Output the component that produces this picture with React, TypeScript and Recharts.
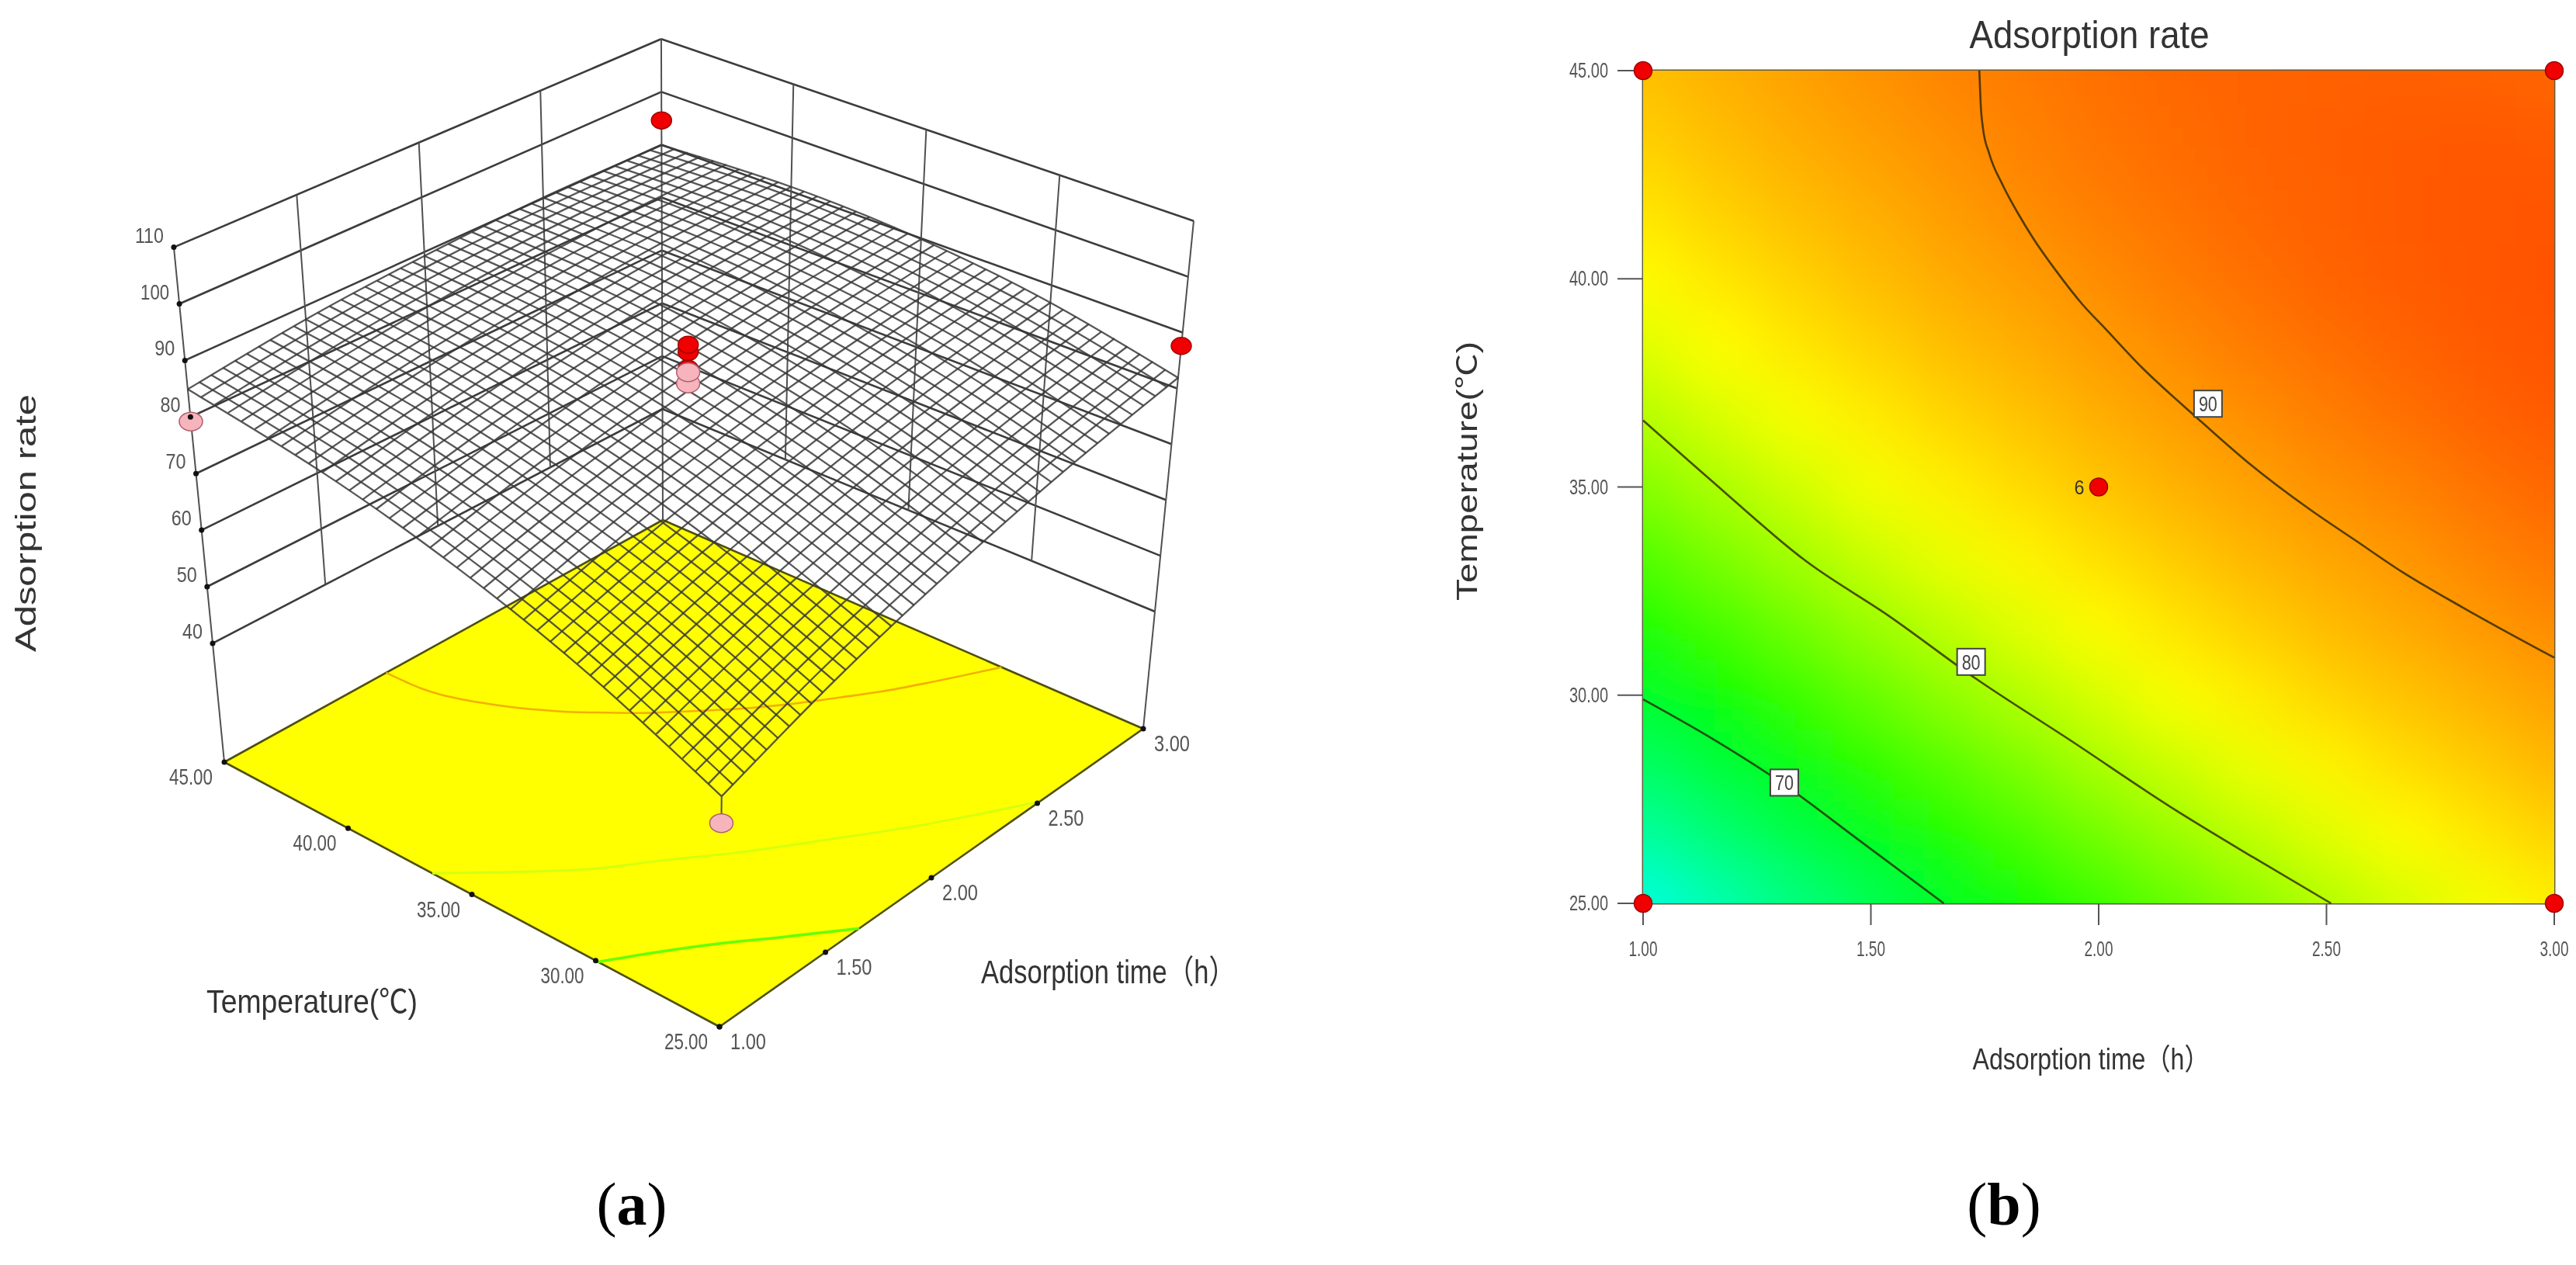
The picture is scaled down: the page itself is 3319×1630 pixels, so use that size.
/* ---------- Adsorption rate: response surface (a) and contour plot (b) ---------- */
import { ScatterChart, Scatter, XAxis, YAxis, ReferenceArea } from 'recharts';

const timeTicks = [1, 1.5, 2, 2.5, 3];
const tempTicks = [25, 30, 35, 40, 45];
const rateTicks = [40, 50, 60, 70, 80, 90, 100, 110];
const FLOOR_RATE = 19;
const TOP_RATE = 110;

// contour lines as [time, temperature]
const contour70 = [[1, 29.9], [1.145, 29.0], [1.31, 27.85], [1.47, 26.55], [1.66, 25]];
const contour80 = [[1, 36.6], [1.145, 35.2], [1.36, 33.2], [1.54, 31.9], [1.73, 30.4], [1.94, 28.9], [2.16, 27.3], [2.34, 26.1], [2.51, 25]];
const contour90 = [
  [1.738, 45], [1.741, 44.2], [1.746, 43.62], [1.76, 43.0], [1.789, 42.26], [1.823, 41.57], [1.857, 40.96], [1.908, 40.17],
  [1.964, 39.39], [2.014, 38.81], [2.094, 37.88], [2.19, 36.91], [2.225, 36.57], [2.33, 35.57], [2.465, 34.45], [2.566, 33.7],
  [2.666, 32.96], [2.8, 32.1], [3, 30.9],
];
const contourLabels = [
  { t: 1.31, T: 27.9, text: '70' },
  { t: 1.72, T: 30.8, text: '80' },
  { t: 2.24, T: 37.0, text: '90' },
];

// design points
const cornerPoints = [{ t: 1, T: 25 }, { t: 3, T: 25 }, { t: 1, T: 45 }, { t: 3, T: 45 }];
const centerPoint = [{ t: 2, T: 35 }];
const pointsAbove = [
  { t: 3, T: 45, rate: 94.6 },
  { t: 3, T: 25, rate: 87.6 },
  { t: 2, T: 35, rate: 88.5 },
  { t: 2, T: 35, rate: 91.5 },
  { t: 2, T: 35, rate: 92.8 },
];
const pointsBelow = [
  { t: 1, T: 45, rate: 79.2 },
  { t: 1, T: 25, rate: 53.2 },
  { t: 2, T: 35, rate: 85.9 },
  { t: 2, T: 35, rate: 87.9 },
];

// rate over panel (b), rows from 25 to 45 degrees, columns from 1 to 3 h
const heatRates = [
  [60.2, 62.8, 65.3, 67.8, 70.1, 72.2, 74.3, 76.3, 78.1, 79.9, 81.5, 83.0, 84.4],
  [63.7, 66.2, 68.6, 70.8, 73.0, 75.1, 77.0, 78.8, 80.5, 82.1, 83.6, 85.0, 86.3],
  [67.0, 69.3, 71.6, 73.7, 75.7, 77.6, 79.5, 81.1, 82.7, 84.2, 85.6, 86.8, 88.0],
  [70.0, 72.2, 74.3, 76.4, 78.3, 80.0, 81.7, 83.3, 84.7, 86.1, 87.3, 88.4, 89.4],
  [72.8, 74.9, 76.9, 78.8, 80.5, 82.2, 83.7, 85.2, 86.5, 87.7, 88.8, 89.8, 90.6],
  [75.4, 77.4, 79.2, 81.0, 82.6, 84.1, 85.5, 86.8, 88.0, 89.1, 90.0, 90.9, 91.6],
  [77.8, 79.6, 81.3, 83.0, 84.5, 85.8, 87.1, 88.3, 89.3, 90.3, 91.0, 91.8, 92.4],
  [80.0, 81.7, 83.2, 84.7, 86.1, 87.3, 88.5, 89.5, 90.4, 91.2, 91.9, 92.5, 93.0],
  [81.9, 83.5, 84.9, 86.2, 87.5, 88.6, 89.6, 90.5, 91.3, 91.9, 92.5, 93.0, 93.3],
  [83.6, 85.0, 86.3, 87.6, 88.7, 89.6, 90.5, 91.3, 91.9, 92.5, 92.9, 93.2, 93.4],
  [85.1, 86.4, 87.6, 88.6, 89.6, 90.5, 91.2, 91.8, 92.3, 92.7, 93.0, 93.2, 93.3],
  [86.4, 87.5, 88.6, 89.5, 90.3, 91.0, 91.7, 92.1, 92.5, 92.8, 93.0, 93.1, 93.0],
  [87.4, 88.4, 89.3, 90.2, 90.9, 91.4, 91.9, 92.3, 92.5, 92.7, 92.7, 92.6, 92.4],
];

// surface mesh of panel (a): one row per mesh line of constant temperature (25 to 45, every 0.5),
// read at the five time ticks
const meshByTemp = [
  [57.7, 65.3, 71.8, 77.4, 81.9], [58.8, 66.2, 72.6, 78.1, 82.5], [59.8, 67.1, 73.4, 78.8, 83.1], [60.9, 68.0, 74.2, 79.4, 83.6],
  [61.9, 68.9, 75.0, 80.1, 84.1], [62.9, 69.8, 75.8, 80.7, 84.7], [63.8, 70.7, 76.5, 81.3, 85.1], [64.8, 71.5, 77.2, 81.9, 85.6],
  [65.7, 72.3, 77.9, 82.5, 86.1], [66.6, 73.1, 78.6, 83.0, 86.5], [67.5, 73.9, 79.2, 83.6, 86.9], [68.4, 74.6, 79.8, 84.1, 87.3],
  [69.2, 75.3, 80.4, 84.6, 87.7], [70.1, 76.0, 81.0, 85.0, 88.0], [70.9, 76.7, 81.6, 85.5, 88.3], [71.7, 77.4, 82.2, 85.9, 88.7],
  [72.4, 78.1, 82.7, 86.3, 88.9], [73.2, 78.7, 83.2, 86.7, 89.2], [73.9, 79.3, 83.7, 87.1, 89.5], [74.6, 79.9, 84.2, 87.4, 89.7],
  [75.3, 80.5, 84.6, 87.8, 89.9], [76.0, 81.0, 85.0, 88.1, 90.1], [76.6, 81.5, 85.4, 88.4, 90.3], [77.3, 82.0, 85.8, 88.6, 90.4],
  [77.9, 82.5, 86.2, 88.9, 90.5], [78.5, 83.0, 86.6, 89.1, 90.7], [79.0, 83.5, 86.9, 89.3, 90.7], [79.6, 83.9, 87.2, 89.5, 90.8],
  [80.1, 84.3, 87.5, 89.7, 90.9], [80.6, 84.7, 87.8, 89.8, 90.9], [81.1, 85.1, 88.0, 90.0, 90.9], [81.6, 85.4, 88.2, 90.1, 90.9],
  [82.0, 85.7, 88.4, 90.2, 90.9], [82.5, 86.0, 88.6, 90.2, 90.8], [82.9, 86.3, 88.8, 90.3, 90.7], [83.3, 86.6, 89.0, 90.3, 90.7],
  [83.6, 86.9, 89.1, 90.3, 90.5], [84.0, 87.1, 89.2, 90.3, 90.4], [84.3, 87.3, 89.3, 90.3, 90.3], [84.6, 87.5, 89.4, 90.2, 90.1],
  [84.9, 87.7, 89.4, 90.2, 89.9],
];

// one row per mesh line of constant time (1 to 3, every 0.05), read at the five temperature ticks
const meshByTime = [
  [57.7, 67.5, 75.3, 81.1, 84.9], [58.5, 68.2, 75.9, 81.5, 85.2], [59.3, 68.9, 76.4, 82.0, 85.5], [60.1, 69.5, 77.0, 82.4, 85.8],
  [60.8, 70.2, 77.5, 82.8, 86.1], [61.6, 70.8, 78.0, 83.2, 86.4], [62.4, 71.4, 78.5, 83.6, 86.7], [63.1, 72.1, 79.0, 84.0, 86.9],
  [63.8, 72.7, 79.5, 84.3, 87.2], [64.5, 73.3, 80.0, 84.7, 87.4], [65.3, 73.9, 80.5, 85.1, 87.7], [66.0, 74.4, 80.9, 85.4, 87.9],
  [66.6, 75.0, 81.4, 85.7, 88.1], [67.3, 75.6, 81.8, 86.0, 88.3], [68.0, 76.1, 82.2, 86.4, 88.5], [68.7, 76.7, 82.7, 86.7, 88.7],
  [69.3, 77.2, 83.1, 86.9, 88.8], [69.9, 77.7, 83.5, 87.2, 89.0], [70.6, 78.2, 83.9, 87.5, 89.1], [71.2, 78.7, 84.2, 87.8, 89.3],
  [71.8, 79.2, 84.6, 88.0, 89.4], [72.4, 79.7, 85.0, 88.2, 89.5], [73.0, 80.2, 85.3, 88.5, 89.6], [73.6, 80.6, 85.7, 88.7, 89.7],
  [74.1, 81.1, 86.0, 88.9, 89.8], [74.7, 81.5, 86.3, 89.1, 89.9], [75.3, 81.9, 86.6, 89.3, 90.0], [75.8, 82.4, 86.9, 89.5, 90.0],
  [76.3, 82.8, 87.2, 89.6, 90.1], [76.8, 83.2, 87.5, 89.8, 90.1], [77.4, 83.6, 87.8, 90.0, 90.2], [77.9, 83.9, 88.0, 90.1, 90.2],
  [78.3, 84.3, 88.3, 90.2, 90.2], [78.8, 84.7, 88.5, 90.3, 90.2], [79.3, 85.0, 88.7, 90.5, 90.2], [79.8, 85.4, 89.0, 90.6, 90.2],
  [80.2, 85.7, 89.2, 90.6, 90.1], [80.6, 86.0, 89.4, 90.7, 90.1], [81.1, 86.3, 89.6, 90.8, 90.0], [81.5, 86.6, 89.7, 90.9, 90.0],
  [81.9, 86.9, 89.9, 90.9, 89.9],
];

const SANS = '"Liberation Sans", "Noto Sans CJK SC", sans-serif';
const SOFT = 'blur(0.7px)'; // the reference is an upscaled bitmap

// 3D box of panel (a) on screen: floor corners and rate scale at each corner
const project = (t: number, T: number, rate: number) => {
  const u = (t - 1) / 2;
  const v = (T - 25) / 20;
  const mix = (front: number, right: number, left: number, back: number) =>
    (1 - v) * ((1 - u) * front + u * right) + v * ((1 - u) * left + u * back);
  const fx = mix(927, 1473, 289, 854);
  const fy = mix(1323, 939, 982, 670);
  const h = mix(7.67, 7.19, 7.29, 6.81) * (rate - FLOOR_RATE);
  return { x: fx + ((fx - 875) / (6958 - fy)) * h, y: fy - h };
};
const onFloor = (pts: number[][]) => pts.map(([t, T]) => project(t, T, FLOOR_RATE));

const noMark = () => <g />;

const polyline = (key: string, data: any[], line: any, joint: any = 'linear') => (
  <Scatter
    key={key}
    data={data}
    line={{ strokeLinejoin: 'round', ...line }}
    lineJointType={joint}
    shape={noMark}
    isAnimationActive={false}
  />
);

const Squeezed = ({ x, y, width, size, anchor = 'middle', fill = '#555', rotate, children }: any) => (
  <text
    x={x}
    y={y}
    textAnchor={anchor}
    fontSize={size}
    fontFamily={SANS}
    fill={fill}
    textLength={width}
    lengthAdjust="spacingAndGlyphs"
    transform={rotate ? `rotate(${rotate} ${x} ${y})` : undefined}
  >
    {children}
  </text>
);

const PanelTag = ({ x, letter }: any) => (
  <text x={x} y={1578} textAnchor="middle" fontSize={78} fontFamily='"Liberation Serif", serif' fill="#000">
    (<tspan fontWeight="bold">{letter}</tspan>)
  </text>
);

const wallStroke = { stroke: '#3c3c3c', strokeWidth: 2.6 };
const postStroke = { stroke: '#505050', strokeWidth: 2 };
const meshStroke = { stroke: '#383838', strokeWidth: 2.3, strokeOpacity: 0.85 };

const zTickLabel = (p: any) => (
  <Squeezed x={p.cx - 13} y={p.cy - 6} anchor="end" size={28} width={p.payload.rate > 99 ? 37 : 26}>
    {p.payload.rate}
  </Squeezed>
);
const tempTickLabel = (p: any) => (
  <g>
    <circle cx={p.cx} cy={p.cy} r={3.5} fill="#111" />
    <Squeezed x={p.cx - 43} y={p.cy + 29} size={29} width={56}>
      {p.payload.T.toFixed(2)}
    </Squeezed>
  </g>
);
const timeTickLabel = (p: any) => (
  <g>
    <circle cx={p.cx} cy={p.cy} r={3.5} fill="#111" />
    <Squeezed x={p.cx + 37} y={p.cy + 29} size={29} width={46}>
      {p.payload.t.toFixed(2)}
    </Squeezed>
  </g>
);
const redEllipse = (p: any) => <ellipse cx={p.cx} cy={p.cy} rx={13} ry={11} fill="#f00000" stroke="#a00000" strokeWidth={1.5} />;
const pinkEllipse = (p: any) => <ellipse cx={p.cx} cy={p.cy} rx={15} ry={12} fill="#f6b4bc" stroke="#b06070" strokeWidth={1.5} />;

const SurfacePanel = () => {
  const at = (t: number, T: number, rate: number) => ({ ...project(t, T, rate), t, T, rate });
  return (
    <ScatterChart width={1700} height={1630} margin={{ top: 0, right: 0, bottom: 0, left: 0 }} style={{ position: 'absolute', left: 0, top: 0, filter: SOFT }}>
      <XAxis type="number" dataKey="x" domain={[0, 1700]} hide />
      <YAxis type="number" dataKey="y" domain={[0, 1630]} reversed hide />

      {/* floor */}
      {polyline('floor', onFloor([[1, 25], [3, 25], [3, 45], [1, 45], [1, 25]]), { fill: '#ffff00', stroke: '#4f4f10', strokeWidth: 2.6 })}
      {polyline('floor-70', onFloor(contour70), { stroke: '#66ff00', strokeWidth: 3.5 }, 'monotoneX')}
      {polyline('floor-80', onFloor(contour80), { stroke: '#d4ff10', strokeWidth: 3 }, 'monotoneX')}
      {polyline('floor-90', onFloor(contour90), { stroke: '#f2b000', strokeWidth: 2.6 }, 'monotoneX')}

      {/* back walls */}
      {rateTicks.map((r) => polyline(`wall-l-${r}`, [at(1, 45, r), at(3, 45, r)], wallStroke))}
      {rateTicks.map((r) => polyline(`wall-r-${r}`, [at(3, 45, r), at(3, 25, r)], wallStroke))}
      {timeTicks.slice(1, -1).map((t) => polyline(`post-l-${t}`, [at(t, 45, TOP_RATE), at(t, 45, 40)], postStroke))}
      {tempTicks.slice(1, -1).map((T) => polyline(`post-r-${T}`, [at(3, T, TOP_RATE), at(3, T, 40)], postStroke))}
      {polyline('post-left', [at(1, 45, TOP_RATE), at(1, 45, FLOOR_RATE)], postStroke)}
      {polyline('post-back', [at(3, 45, TOP_RATE), at(3, 45, FLOOR_RATE)], postStroke)}
      {polyline('post-right', [at(3, 25, TOP_RATE), at(3, 25, FLOOR_RATE)], postStroke)}

      {/* surface mesh */}
      {meshByTemp.map((row, i) =>
        polyline(`mesh-T-${i}`, row.map((r, k) => at(timeTicks[k], 25 + i * 0.5, r)), meshStroke, 'natural'),
      )}
      {meshByTime.map((row, j) =>
        polyline(`mesh-t-${j}`, row.map((r, k) => at(1 + j * 0.05, tempTicks[k], r)), meshStroke, 'natural'),
      )}

      {/* drop line under the front corner */}
      {polyline('drop-front', [at(1, 25, 57.7), at(1, 25, 53.2)], postStroke)}

      <Scatter data={pointsAbove.map((p) => at(p.t, p.T, p.rate))} shape={redEllipse} isAnimationActive={false} />
      <Scatter data={pointsBelow.map((p) => at(p.t, p.T, p.rate))} shape={pinkEllipse} isAnimationActive={false} />

      <Scatter
        data={rateTicks.map((r) => at(1, 45, r))}
        shape={(p: any) => (
          <g>
            <circle cx={p.cx} cy={p.cy} r={3.5} fill="#111" />
            {zTickLabel(p)}
          </g>
        )}
        isAnimationActive={false}
      />
      <Scatter data={tempTicks.map((T) => at(1, T, FLOOR_RATE))} shape={tempTickLabel} isAnimationActive={false} />
      <Scatter data={timeTicks.map((t) => at(t, 25, FLOOR_RATE))} shape={timeTickLabel} isAnimationActive={false} />

      <Squeezed x={402} y={1305} size={42} width={272} fill="#333">Temperature(℃)</Squeezed>
      <Squeezed x={1428} y={1267} size={42} width={328} fill="#333">Adsorption time（h）</Squeezed>
      <Squeezed x={46} y={674} size={36} width={332} fill="#333" rotate={-90}>Adsorption rate</Squeezed>
      <PanelTag x={814} letter="a" />
    </ScatterChart>
  );
};

/* ---------- contour panel ---------- */
const colorStops = [
  [60, 0, 255, 225],
  [72, 0, 255, 0],
  [83.5, 255, 255, 0],
  [90, 255, 150, 0],
  [93.5, 255, 80, 0],
];
const rateColor = (v: number) => {
  for (let i = 1; i < colorStops.length; i++) {
    if (v <= colorStops[i][0]) {
      const a = colorStops[i - 1];
      const b = colorStops[i];
      const f = Math.max(0, (v - a[0]) / (b[0] - a[0]));
      return `rgb(${[1, 2, 3].map((c) => Math.round(a[c] + (b[c] - a[c]) * f)).join(',')})`;
    }
  }
  return 'rgb(255,80,0)';
};

const heatData = heatRates.flatMap((row, i) =>
  row.map((rate, j) => ({ t: 1 + (j * 2) / 12, T: 25 + (i * 20) / 12, rate, i, j })),
);

const PLOT = { left: 417, top: 91, width: 1174, height: 1073 };

const heatCell = (p: any) => {
  const w = PLOT.width / 12;
  const h = PLOT.height / 12;
  const { i, j, rate } = p.payload;
  const x0 = p.cx - w / 2 - (j === 0 ? 200 : 0);
  const x1 = p.cx + w / 2 + (j === 12 ? 200 : 0);
  const y0 = p.cy - h / 2 - (i === 12 ? 200 : 0);
  const y1 = p.cy + h / 2 + (i === 0 ? 200 : 0);
  return <rect x={x0} y={y0} width={x1 - x0 + 1} height={y1 - y0 + 1} fill={rateColor(rate)} />;
};

const ContourTickX = ({ x, y, payload }: any) => (
  <Squeezed x={x} y={y + 38} size={27} width={37}>{payload.value.toFixed(2)}</Squeezed>
);
const ContourTickY = ({ x, y, payload }: any) => (
  <Squeezed x={x - 10} y={y + 9} size={27} width={50} anchor="end">{payload.value.toFixed(2)}</Squeezed>
);

const contourLine = (key: string, pts: number[][]) =>
  polyline(key, pts.map(([t, T]) => ({ t, T })), { stroke: '#2b2500', strokeWidth: 2.6, strokeOpacity: 0.8 }, 'monotoneX');

const ContourPanel = () => (
  <ScatterChart
    width={1619}
    height={1630}
    margin={{ top: PLOT.top, right: 28, bottom: 406, left: PLOT.left - 100 }}
    style={{ position: 'absolute', left: 1700, top: 0, filter: SOFT }}
  >
    <defs>
      <filter id="heatBlur" filterUnits="userSpaceOnUse" x="0" y="0" width="1619" height="1630">
        <feGaussianBlur stdDeviation="38" />
      </filter>
      <clipPath id="heatClip">
        <rect x={PLOT.left} y={PLOT.top} width={PLOT.width} height={PLOT.height} />
      </clipPath>
    </defs>
    <style>{'.heat-layer{filter:url(#heatBlur);clip-path:url(#heatClip)}'}</style>
    <XAxis
      type="number"
      dataKey="t"
      domain={[1, 3]}
      ticks={timeTicks}
      interval={0}
      height={60}
      tickSize={28}
      axisLine={false}
      tickLine={{ stroke: '#555', strokeWidth: 2 }}
      tick={<ContourTickX />}
    />
    <YAxis
      type="number"
      dataKey="T"
      domain={[25, 45]}
      ticks={tempTicks}
      interval={0}
      width={100}
      tickSize={33}
      axisLine={false}
      tickLine={{ stroke: '#555', strokeWidth: 2 }}
      tick={<ContourTickY />}
    />
    <Scatter className="heat-layer" data={heatData} shape={heatCell} isAnimationActive={false} />
    <ReferenceArea x1={1} x2={3} y1={25} y2={45} fill="none" stroke="#5c5c3c" strokeWidth={2.8} />

    {contourLine('c70', contour70)}
    {contourLine('c80', contour80)}
    {contourLine('c90', contour90)}

    <Scatter
      data={contourLabels}
      shape={(p: any) => (
        <g>
          <rect x={p.cx - 18} y={p.cy - 17} width={36} height={34} fill="#fff" stroke="#444" strokeWidth={2} />
          <Squeezed x={p.cx} y={p.cy + 10} size={27} width={24} fill="#444">{p.payload.text}</Squeezed>
        </g>
      )}
      isAnimationActive={false}
    />
    <Scatter
      data={[...cornerPoints, ...centerPoint]}
      shape={(p: any) => <circle cx={p.cx} cy={p.cy} r={11.5} fill="#f00000" stroke="#a00000" strokeWidth={1.5} />}
      isAnimationActive={false}
    />
    <Scatter
      data={centerPoint}
      shape={(p: any) => <Squeezed x={p.cx - 25} y={p.cy + 9} size={26} width={13} fill="#333">6</Squeezed>}
      isAnimationActive={false}
    />

    <Squeezed x={992} y={62} size={50} width={309} fill="#333">Adsorption rate</Squeezed>
    <Squeezed x={994} y={1378} size={38} width={305} fill="#333">Adsorption time（h）</Squeezed>
    <Squeezed x={203} y={607} size={36} width={334} fill="#333" rotate={-90}>Temperature(℃)</Squeezed>
    <PanelTag x={882} letter="b" />
  </ScatterChart>
);

export default function App() {
  return (
    <div style={{ position: 'absolute', left: 0, top: 0, width: 3319, height: 1630, background: '#fff', overflow: 'hidden' }}>
      <SurfacePanel />
      <ContourPanel />
    </div>
  );
}
